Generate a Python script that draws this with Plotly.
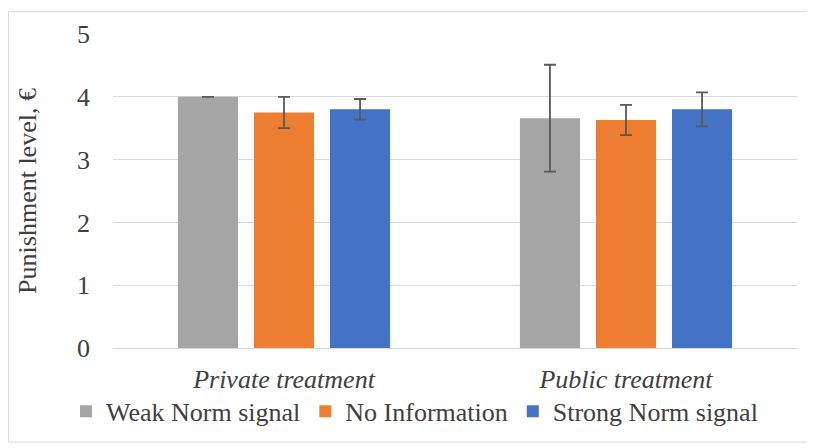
import plotly.graph_objects as go

categories = ["Private treatment", "Public treatment"]
series_names = ["Weak Norm signal", "No Information", "Strong Norm signal"]
weak = [4.0, 3.66]
noinfo = [3.75, 3.63]
strong = [3.80, 3.80]
weak_err = [0.0, 0.85]
noinfo_err = [0.25, 0.24]
strong_err = [0.165, 0.27]
colors = ["#a5a5a5", "#ed7d31", "#4472c4"]

fig = go.Figure()
for name, vals, errs, col in zip(series_names, [weak, noinfo, strong],
                                 [weak_err, noinfo_err, strong_err], colors):
    fig.add_trace(go.Bar(
        name=name, x=categories, y=vals, marker_color=col,
        marker_line_width=0,
        error_y=dict(type="data", array=errs, visible=True,
                     color="#595959", thickness=1.8, width=6),
    ))

OFF = 8  # page body margin
W, H = 815, 448
L, T = 113 - OFF, 31 - OFF
R = W + OFF - 797
B = H + OFF - 348
pw, ph = W - L - R, H - T - B

def px(x):  # page pixel -> paper
    return (x - OFF - L) / pw

def py(y):
    return (H - B - (y - OFF)) / ph

FONT = "Liberation Serif"
FS = 26
TXT = "#404040"

fig.update_layout(
    width=W, height=H,
    margin=dict(l=L, r=R, t=T, b=B),
    paper_bgcolor="white", plot_bgcolor="white",
    barmode="group", bargap=0.333, bargroupgap=0.21,
    font=dict(family=FONT, size=FS, color=TXT),
    showlegend=True,
    legend=dict(orientation="h", x=px(66), xanchor="left",
                y=py(412), yanchor="middle",
                font=dict(family=FONT, size=FS, color=TXT), itemwidth=30,
                traceorder="normal", bgcolor="rgba(0,0,0,0)"),
    yaxis=dict(range=[0, 5], dtick=1, showgrid=True, gridcolor="#d9d9d9", gridwidth=1.3,
               zeroline=False, showline=False, ticks="", ticklabelstandoff=22,
               title=dict(text="Punishment level, €",
                          font=dict(family=FONT, size=FS, color=TXT), standoff=32),
               tickfont=dict(family=FONT, size=FS, color=TXT)),
    xaxis=dict(showline=True, linecolor="#d9d9d9", linewidth=1.3, ticks="",
               ticklabelstandoff=8,
               tickfont=dict(family=FONT, size=FS, color=TXT, style="italic")),
    shapes=[dict(type="rect", xref="paper", yref="paper",
                 x0=px(OFF + 0.5), x1=px(810), y0=py(443), y1=py(OFF + 0.5),
                 line=dict(color="#d9d9d9", width=1), fillcolor="rgba(0,0,0,0)", layer="below")],
)

fig.write_html("out.html")
